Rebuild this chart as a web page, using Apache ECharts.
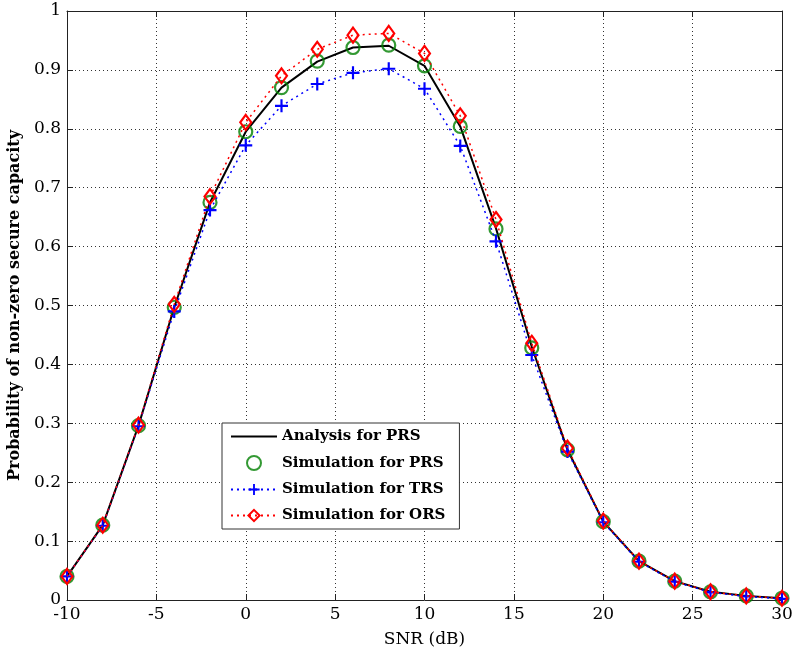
<!DOCTYPE html>
<html>
<head>
<meta charset="utf-8">
<script src="https://cdn.jsdelivr.net/npm/echarts@6/dist/echarts.min.js"></script>
<style>html,body{margin:0;padding:0;background:#fff}#c{width:792px;height:654px}</style>
</head>
<body>
<div id="c"></div>
<script>
const snr = [-10,-8,-6,-4,-2,0,2,4,6,8,10,12,14,16,18,20,22,24,26,28,30];
const analysisPRS = [0.040,0.127,0.296,0.497,0.675,0.795,0.870,0.914,0.938,0.941,0.907,0.804,0.631,0.430,0.255,0.133,0.066,0.032,0.014,0.007,0.003];
const simPRS      = [0.040,0.127,0.296,0.497,0.675,0.795,0.870,0.915,0.938,0.942,0.907,0.804,0.630,0.428,0.255,0.133,0.066,0.032,0.014,0.007,0.003];
const simTRS      = [0.040,0.126,0.295,0.490,0.662,0.772,0.839,0.876,0.895,0.902,0.868,0.771,0.609,0.416,0.252,0.132,0.065,0.031,0.013,0.006,0.002];
const simORS      = [0.040,0.127,0.297,0.502,0.685,0.811,0.890,0.935,0.959,0.962,0.928,0.822,0.646,0.436,0.258,0.134,0.066,0.032,0.014,0.007,0.003];
const xTicks = [-10,-5,0,5,10,15,20,25,30];
const seriesNames = ['Analysis for PRS','Simulation for PRS','Simulation for TRS','Simulation for ORS'];

const pair = (ys) => snr.map((x,i)=>[x,ys[i]]);
const FONT = 'DejaVu Serif';
const plusPath = 'path://M5,0H7V5H12V7H7V12H5V7H0V5H5Z';

const chart = echarts.init(document.getElementById('c'), null, {renderer:'canvas'});
const axisCommon = {
  axisLine:{show:true,onZero:false,lineStyle:{color:'#222',width:1}},
  axisTick:{show:true,inside:true,length:6,lineStyle:{color:'#222'}},
};
chart.setOption({
  animation:false,
  backgroundColor:'#fff',
  grid:{left:67,right:10,top:11,bottom:54,containLabel:false,outerBoundsMode:'none'},
  legend:{
    orient:'vertical', left:222, top:423,
    data:[
      {name:seriesNames[0], itemStyle:{color:'rgba(0,0,0,0)',borderColor:'rgba(0,0,0,0)',borderWidth:0}},
      seriesNames[1], seriesNames[2], seriesNames[3]
    ],
    backgroundColor:'#fff', borderColor:'#333', borderWidth:1,
    padding:[6,14,6,8], itemGap:11, itemWidth:46, itemHeight:14,
    textStyle:{fontFamily:FONT,fontSize:15,fontWeight:'bold',color:'#000'}
  },
  xAxis:[{
    type:'value', min:-10, max:30, interval:5, position:'bottom',
    data:xTicks,
    name:'SNR (dB)', nameLocation:'middle', nameGap:31,
    nameTextStyle:{fontFamily:FONT,fontSize:17,color:'#000'},
    axisLabel:{fontFamily:FONT,fontSize:17,color:'#000',margin:6},
    splitLine:{show:true,lineStyle:{type:[1,3],color:'#333',width:1}},
    ...axisCommon
  },{
    type:'value', min:-10, max:30, interval:5, position:'top',
    axisLabel:{show:false}, splitLine:{show:false}, ...axisCommon
  }],
  yAxis:[{
    type:'value', min:0, max:1, interval:0.1, position:'left',
    name:'Probability of non-zero secure capacity', nameLocation:'middle', nameGap:40,
    nameTextStyle:{fontFamily:FONT,fontSize:16,fontWeight:'bold',color:'#000'},
    axisLabel:{fontFamily:FONT,fontSize:17,color:'#000',margin:6},
    splitLine:{show:true,lineStyle:{type:[1,3],color:'#333',width:1}},
    ...axisCommon
  },{
    type:'value', min:0, max:1, interval:0.1, position:'right',
    axisLabel:{show:false}, splitLine:{show:false}, ...axisCommon
  }],
  series:[
    {name:seriesNames[0], type:'line', data:pair(analysisPRS), symbol:'none',
     lineStyle:{color:'#000',width:2}, itemStyle:{color:'#000'}, z:2},
    {name:seriesNames[1], type:'scatter', data:pair(simPRS), symbol:'circle', symbolSize:13,
     itemStyle:{color:'rgba(0,0,0,0)',borderColor:'#008000',borderWidth:2.2}, z:3},
    {name:seriesNames[2], type:'line', data:pair(simTRS), symbol:plusPath, symbolSize:13,
     lineStyle:{color:'#0000ff',width:1.5,type:[2,4]}, itemStyle:{color:'#0000ff'}, z:4},
    {name:seriesNames[3], type:'line', data:pair(simORS), symbol:'diamond', symbolSize:[11,15],
     lineStyle:{color:'#ff0000',width:1.5,type:[2,4]},
     itemStyle:{color:'rgba(255,255,255,0)',borderColor:'#ff0000',borderWidth:2.2}, z:5}
  ]
});
</script>
</body>
</html>
